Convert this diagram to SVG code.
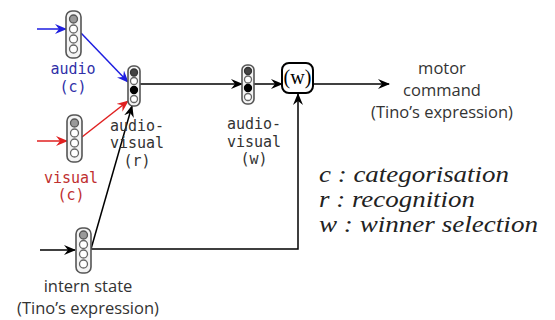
<svg xmlns="http://www.w3.org/2000/svg" width="555" height="320" viewBox="0 0 555 320">
<style>
.node{fill:#f4f4f4;stroke:#555;stroke-width:1.6}
.c{fill:#fff;stroke:#666;stroke-width:1.3}
.g{fill:#999;stroke:#555;stroke-width:1.3}
.d{fill:#444;stroke:#333;stroke-width:1.3}
.k{fill:#000;stroke:#000;stroke-width:1.3}
.mono{font-family:"DejaVu Sans Mono",monospace;font-size:15px;text-anchor:middle}
.sans{font-family:"Open Sans","Noto Sans",sans-serif;font-size:16.5px;fill:#333;text-anchor:middle}
.leg{font-family:"Liberation Serif",serif;font-style:italic;font-size:24px;fill:#222}
.ln{fill:none;stroke-width:1.5}
</style>
<defs>
<marker id="ak" markerWidth="12" markerHeight="10" refX="11" refY="5" orient="auto" markerUnits="userSpaceOnUse"><path d="M0,0 L12,5 L0,10 L4,5 Z" fill="#000"/></marker>
<marker id="ab" markerWidth="12" markerHeight="10" refX="11" refY="5" orient="auto" markerUnits="userSpaceOnUse"><path d="M0,0 L12,5 L0,10 L4,5 Z" fill="#1e1ee0"/></marker>
<marker id="ar" markerWidth="12" markerHeight="10" refX="11" refY="5" orient="auto" markerUnits="userSpaceOnUse"><path d="M0,0 L12,5 L0,10 L4,5 Z" fill="#e02020"/></marker>
</defs>
<g id="connectors">
<line class="ln" x1="37" y1="29" x2="66" y2="29" stroke="#1e1ee0" marker-end="url(#ab)"/>
<line class="ln" x1="81" y1="33" x2="128" y2="82" stroke="#1e1ee0" marker-end="url(#ab)"/>
<line class="ln" x1="37" y1="141" x2="67" y2="141" stroke="#e02020" marker-end="url(#ar)"/>
<line class="ln" x1="82" y1="137" x2="128" y2="101" stroke="#e02020" marker-end="url(#ar)"/>
<line class="ln" x1="40" y1="250" x2="75" y2="250" stroke="#000" marker-end="url(#ak)"/>
<line class="ln" x1="91" y1="249" x2="132" y2="106" stroke="#000" marker-end="url(#ak)"/>
<line class="ln" x1="140" y1="84" x2="242" y2="84" stroke="#000" marker-end="url(#ak)"/>
<line class="ln" x1="254" y1="84" x2="282" y2="84" stroke="#000" marker-end="url(#ak)"/>
<polyline class="ln" points="91,249 298,249 298,94" stroke="#000" marker-end="url(#ak)"/>
<line class="ln" x1="313" y1="84" x2="389" y2="84" stroke="#000" marker-end="url(#ak)"/>
</g>
<g id="audio">
<rect class="node" x="66" y="11" width="15" height="47" rx="6"/>
<circle class="g" cx="73.5" cy="19" r="4"/>
<circle class="c" cx="73.5" cy="29" r="4"/>
<circle class="c" cx="73.5" cy="39" r="4"/>
<circle class="c" cx="73.5" cy="49" r="4"/>
<text class="mono" x="73" y="74" fill="#3030a8">audio</text>
<text class="mono" x="73" y="92" fill="#3030a8">(c)</text>
</g>
<g id="visual">
<rect class="node" x="67" y="115" width="15" height="47" rx="6"/>
<circle class="g" cx="74.5" cy="123" r="4"/>
<circle class="c" cx="74.5" cy="133" r="4"/>
<circle class="c" cx="74.5" cy="143" r="4"/>
<circle class="c" cx="74.5" cy="153" r="4"/>
<text class="mono" x="71" y="183" fill="#c03030">visual</text>
<text class="mono" x="71" y="200" fill="#c03030">(c)</text>
</g>
<g id="audiovisual-r">
<rect class="node" x="128" y="66" width="12" height="40" rx="5"/>
<circle class="d" cx="134" cy="72.5" r="3.5"/>
<circle class="c" cx="134" cy="81" r="3.5"/>
<circle class="k" cx="134" cy="90" r="3.5"/>
<circle class="c" cx="134" cy="99" r="3.5"/>
<text class="mono" x="137" y="131" fill="#333">audio-</text>
<text class="mono" x="137" y="148" fill="#333">visual</text>
<text class="mono" x="137" y="166" fill="#333">(r)</text>
</g>
<g id="audiovisual-w">
<rect class="node" x="242" y="65" width="12" height="39" rx="5"/>
<circle class="d" cx="248" cy="71" r="3.5"/>
<circle class="c" cx="248" cy="79.5" r="3.5"/>
<circle class="k" cx="248" cy="88" r="3.5"/>
<circle class="c" cx="248" cy="97" r="3.5"/>
<text class="mono" x="254" y="129" fill="#333">audio-</text>
<text class="mono" x="254" y="147" fill="#333">visual</text>
<text class="mono" x="254" y="164" fill="#333">(w)</text>
</g>
<g id="winner">
<rect x="282" y="63" width="31" height="30" rx="7" fill="#fff" stroke="#000" stroke-width="2"/>
<text x="297.5" y="84" font-family="Liberation Serif,serif" font-size="20" text-anchor="middle" fill="#000">(w)</text>
</g>
<g id="motor">
<text class="sans" x="442" y="74">motor</text>
<text class="sans" x="442" y="96">command</text>
<text class="sans" x="442" y="118">(Tino’s expression)</text>
</g>
<g id="intern">
<rect class="node" x="76" y="228" width="15" height="45" rx="6"/>
<circle class="g" cx="83.5" cy="235" r="4"/>
<circle class="c" cx="83.5" cy="244.5" r="4"/>
<circle class="c" cx="83.5" cy="254" r="4"/>
<circle class="c" cx="83.5" cy="264" r="4"/>
<text class="sans" x="88" y="292">intern state</text>
<text class="sans" x="88" y="314">(Tino’s expression)</text>
</g>
<g id="legend">
<text class="leg" x="319" y="182" textLength="190" lengthAdjust="spacingAndGlyphs">c : categorisation</text>
<text class="leg" x="319" y="207" textLength="156" lengthAdjust="spacingAndGlyphs">r : recognition</text>
<text class="leg" x="319" y="232" textLength="219" lengthAdjust="spacingAndGlyphs">w : winner selection</text>
</g>
</svg>
